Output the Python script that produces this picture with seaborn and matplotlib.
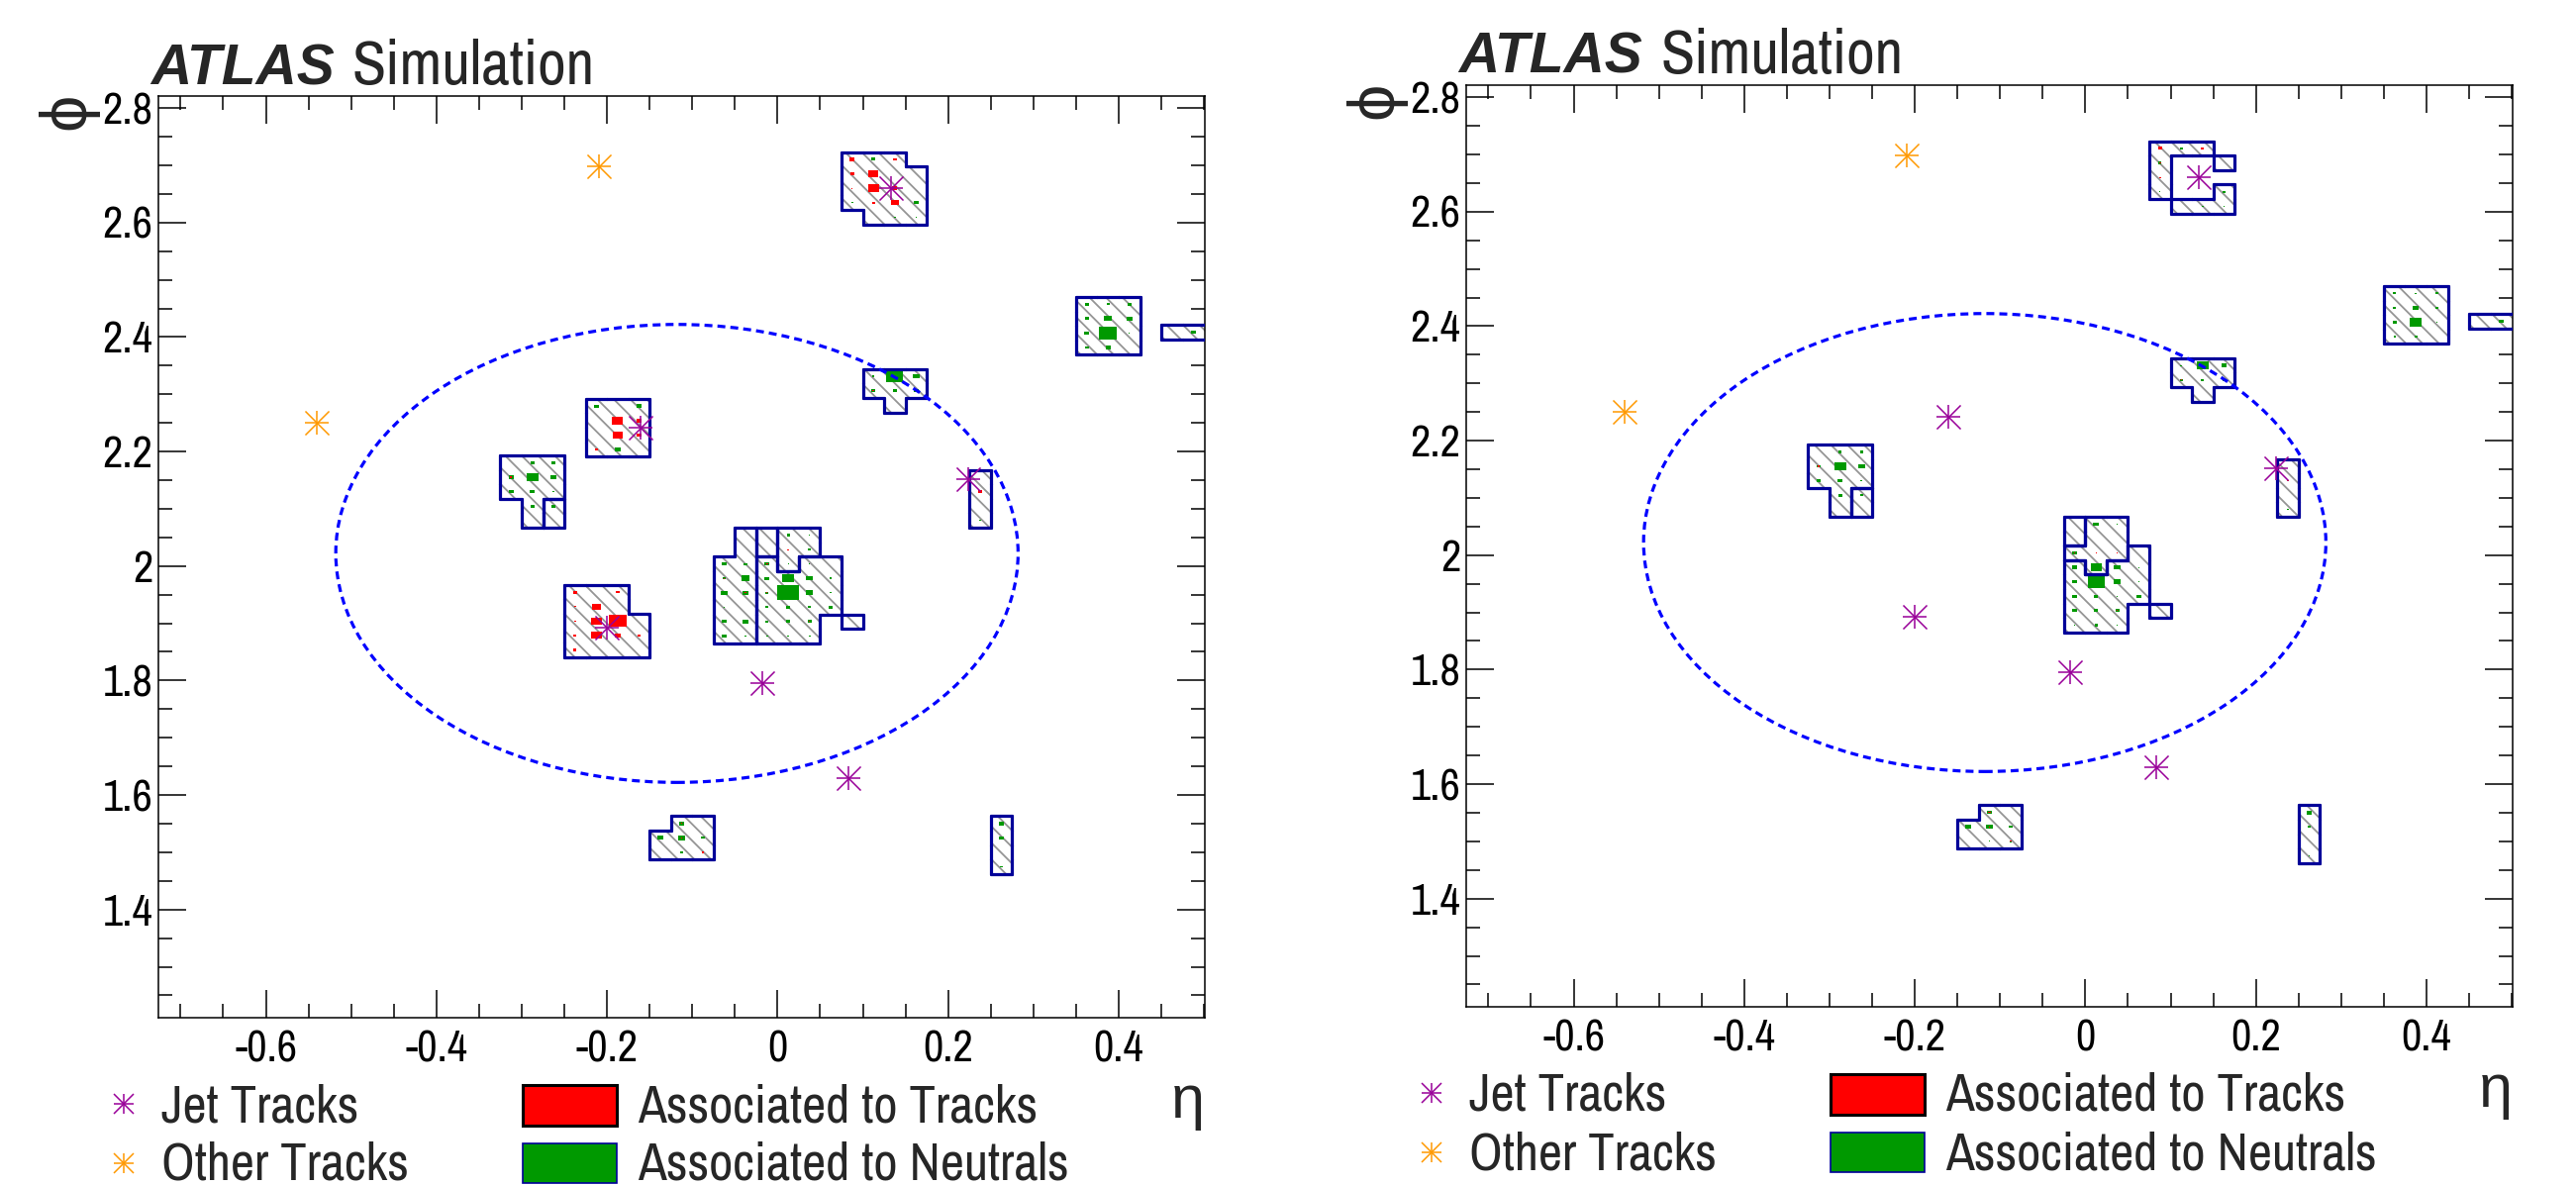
import numpy as np
import matplotlib
matplotlib.use("Agg")
import matplotlib.pyplot as plt
import seaborn as sns
from matplotlib.patches import Rectangle, Ellipse
from matplotlib.collections import LineCollection
from matplotlib.ticker import MultipleLocator, FuncFormatter

W, H, DPI = 2602, 1198, 100

# calorimeter cell size (eta x phi)
DETA = 0.025
DPHI = 0.0252

# jet axis and R=0.4 cone
JET_ETA = -0.118
JET_PHI = 2.022
JET_R = 0.4

# tracks, identical in both panels
jet_trk_eta = [-0.161, -0.200, -0.018, 0.224, 0.083, 0.133]
jet_trk_phi = [2.241, 1.892, 1.796, 2.151, 1.630, 2.660]
oth_trk_eta = [-0.210, -0.540]
oth_trk_phi = [2.699, 2.250]

# clusters: left eta edge, top phi edge, cell mask (rows top->bottom, one letter per cluster)
# boxes: (col, row, relative size, 't' = associated to tracks / 'n' = neutrals)
top_origin = (0.075, 2.723)
top_mask_L = ["AAA.", "AAAA", "AAAA", "AAAA", ".AAA"]
top_boxes_L = [(0, 0, .22, 't'), (1, 0, .2, 'n'), (2, 0, .18, 't'), (0, 1, .12, 'n'), (0, 1, .2, 't'),
               (1, 1, .48, 't'), (0, 2, .06, 't'), (1, 2, .5, 't'), (2, 2, .22, 't'), (0, 3, .08, 'n'),
               (1, 3, .14, 't'), (2, 3, .37, 't'), (3, 3, .25, 'n'), (2, 4, .1, 'n'), (3, 4, .06, 'n')]
top_mask_R = ["AAA.", "A..B", "A...", "A..A", ".AAA"]
top_boxes_R = [(0, 0, .2, 't'), (1, 0, .15, 'n'), (2, 0, .15, 't'), (0, 1, .15, 'n'), (0, 1, .08, 't'),
               (0, 2, .07, 't'), (0, 3, .06, 'n'), (3, 3, .15, 'n'), (2, 4, .08, 'n'), (3, 4, .05, 'n')]

mid_origin = (0.100, 2.344)
mid_mask = ["AAA", "AAA", ".A."]
mid_boxes_L = [(0, 0, .1, 'n'), (1, 0, .8, 'n'), (2, 0, .3, 'n'), (0, 1, .2, 'n'), (0, 1, .08, 't'),
               (1, 1, .2, 'n'), (2, 1, .2, 'n')]
mid_boxes_R = [(0, 0, .08, 'n'), (1, 0, .58, 'n'), (2, 0, .25, 'n'), (0, 1, .12, 'n'), (0, 1, .06, 't'),
               (1, 1, .15, 'n'), (2, 1, .15, 'n')]

east_origin = (0.350, 2.470)
east_mask = ["AAA", "AAA", "AAA", "AAA"]
east_boxes_L = [(0, 0, .2, 'n'), (1, 0, .15, 'n'), (2, 0, .2, 'n'), (0, 1, .2, 'n'), (1, 1, .35, 'n'),
                (2, 1, .3, 'n'), (0, 2, .25, 'n'), (1, 2, .85, 'n'), (2, 2, .06, 'n'), (0, 3, .2, 'n'),
                (1, 3, .25, 'n')]
east_boxes_R = [(0, 0, .15, 'n'), (1, 0, .1, 'n'), (2, 0, .12, 'n'), (0, 1, .15, 'n'), (1, 1, .3, 'n'),
                (2, 1, .12, 'n'), (0, 2, .2, 'n'), (1, 2, .58, 'n'), (2, 2, .06, 'n'), (0, 3, .1, 'n'),
                (1, 3, .15, 'n')]

rim_origin = (0.450, 2.421)
rim_mask = ["AAA"]
rim_boxes_L = [(1, 0, .25, 'n')]
rim_boxes_R = [(1, 0, .2, 'n')]

west_origin = (-0.325, 2.193)
west_mask = ["AAA", "AAA", "AAA", ".AB", ".AB"]
west_boxes_L = [(1, 0, .2, 'n'), (2, 0, .2, 'n'), (0, 1, .25, 'n'), (0, 1, .07, 't'), (1, 1, .55, 'n'),
                (2, 1, .26, 'n'), (0, 2, .25, 'n'), (1, 2, .23, 'n'), (2, 2, .1, 'n'), (1, 3, .2, 'n'),
                (2, 3, .2, 'n')]
west_boxes_R = [(1, 0, .15, 'n'), (2, 0, .15, 'n'), (0, 1, .2, 'n'), (0, 1, .07, 't'), (1, 1, .55, 'n'),
                (2, 1, .3, 'n'), (0, 2, .2, 'n'), (1, 2, .25, 'n'), (2, 2, .08, 'n'), (1, 3, .2, 'n'),
                (2, 3, .15, 'n')]

trk1_origin = (-0.225, 2.292)
trk1_mask = ["AAA", "AAA", "AAA", "AAA"]
trk1_boxes = [(0, 0, .2, 'n'), (2, 0, .25, 'n'), (1, 1, .52, 't'), (2, 1, .25, 't'), (1, 2, .5, 't'),
              (2, 2, .2, 't'), (0, 3, .15, 't'), (1, 3, .25, 'n')]

trk2_origin = (-0.250, 1.967)
trk2_mask = ["AAA.", "AAA.", "AAAA", "AAAA", "AAAA"]
trk2_boxes = [(0, 0, .2, 't'), (2, 0, .15, 't'), (0, 1, .1, 't'), (1, 1, .43, 't'), (0, 2, .08, 't'),
              (1, 2, .5, 't'), (2, 2, .85, 't'), (0, 3, .15, 't'), (1, 3, .48, 't'), (2, 3, .3, 't'),
              (3, 3, .1, 't'), (0, 4, .15, 't')]

core_origin = (-0.075, 2.0667)
core_mask_L = [".ABDD..", ".ABDD..", "AACDCC.", "AACCCC.", "AACCCC.", "AACCCC.", "AACCC.E", "AACCC.."]
core_boxes_L = [(1, 1, .06, 't'), (3, 0, .15, 'n'), (4, 0, .06, 'n'), (3, 1, .07, 't'), (4, 1, .12, 'n'),
                (0, 2, .25, 'n'), (1, 2, .15, 'n'), (2, 2, .25, 'n'), (2, 2, .08, 't'), (3, 2, .06, 'n'),
                (4, 2, .06, 'n'), (0, 3, .15, 'n'), (0, 3, .06, 't'), (1, 3, .4, 'n'), (2, 3, .2, 'n'),
                (3, 3, .55, 'n'), (4, 3, .3, 'n'), (5, 3, .1, 'n'), (0, 4, .3, 'n'), (1, 4, .3, 'n'),
                (1, 4, .08, 't'), (2, 4, .15, 'n'), (2, 4, .06, 't'), (3, 4, 1.0, 'n'), (4, 4, .35, 'n'),
                (5, 4, .1, 'n'), (0, 5, .06, 'n'), (2, 5, .12, 'n'), (3, 5, .2, 'n'), (4, 5, .12, 'n'),
                (5, 5, .2, 'n'), (0, 6, .2, 'n'), (1, 6, .25, 'n'), (2, 6, .15, 'n'), (3, 6, .2, 'n'),
                (4, 6, .2, 'n'), (4, 6, .07, 't'), (0, 7, .2, 'n'), (1, 7, .1, 'n'), (2, 7, .08, 'n'),
                (3, 7, .12, 'n'), (4, 7, .1, 'n')]
core_mask_R = ["..BDD..", "..BDD..", "..DDDC.", "..CDCC.", "..CCCC.", "..CCCC.", "..CCC.E", "..CCC.."]
core_boxes_R = [(3, 0, .25, 'n'), (4, 0, .06, 'n'), (3, 1, .06, 't'), (4, 1, .06, 'n'), (2, 2, .2, 'n'),
                (2, 2, .07, 't'), (3, 2, .06, 't'), (4, 2, .06, 't'), (2, 3, .25, 'n'), (3, 3, .52, 'n'),
                (4, 3, .3, 'n'), (5, 3, .06, 'n'), (2, 4, .2, 'n'), (3, 4, .8, 'n'), (4, 4, .35, 'n'),
                (5, 4, .06, 'n'), (2, 5, .2, 'n'), (3, 5, .2, 'n'), (4, 5, .06, 'n'), (5, 5, .25, 'n'),
                (2, 6, .2, 'n'), (3, 6, .2, 'n'), (4, 6, .2, 'n'), (4, 6, .07, 't'), (2, 7, .06, 'n'),
                (3, 7, .15, 'n'), (4, 7, .06, 'n')]

ring_origin = (0.225, 2.168)
ring_mask = ["A", "A", "A", "A"]
ring_boxes_L = [(0, 1, .15, 't'), (0, 3, .1, 'n')]
ring_boxes_R = [(0, 1, .12, 't'), (0, 3, .08, 'n')]

low1_origin = (-0.150, 1.563)
low1_mask = [".AA", "AAA", "AAA"]
low1_boxes_L = [(1, 0, .25, 'n'), (1, 0, .08, 't'), (0, 1, .3, 'n'), (1, 1, .35, 'n'), (1, 1, .08, 't'),
                (2, 1, .15, 'n'), (1, 2, .1, 'n'), (2, 2, .1, 't')]
low1_boxes_R = [(1, 0, .2, 'n'), (1, 0, .1, 't'), (0, 1, .3, 'n'), (1, 1, .3, 'n'), (1, 1, .06, 't'),
                (2, 1, .15, 'n'), (1, 2, .08, 'n'), (2, 2, .12, 'n'), (2, 2, .06, 't')]

low2_origin = (0.250, 1.563)
low2_mask = ["A", "A", "A", "A"]
low2_boxes_L = [(0, 0, .25, 'n'), (0, 1, .22, 'n'), (0, 3, .1, 'n')]
low2_boxes_R = [(0, 0, .25, 'n'), (0, 1, .15, 'n'), (0, 3, .08, 'n')]

left_clusters = [
    (top_origin, top_mask_L, top_boxes_L), (mid_origin, mid_mask, mid_boxes_L),
    (east_origin, east_mask, east_boxes_L), (rim_origin, rim_mask, rim_boxes_L),
    (west_origin, west_mask, west_boxes_L), (trk1_origin, trk1_mask, trk1_boxes),
    (trk2_origin, trk2_mask, trk2_boxes), (core_origin, core_mask_L, core_boxes_L),
    (ring_origin, ring_mask, ring_boxes_L), (low1_origin, low1_mask, low1_boxes_L),
    (low2_origin, low2_mask, low2_boxes_L),
]
right_clusters = [
    (top_origin, top_mask_R, top_boxes_R), (mid_origin, mid_mask, mid_boxes_R),
    (east_origin, east_mask, east_boxes_R), (rim_origin, rim_mask, rim_boxes_R),
    (west_origin, west_mask, west_boxes_R), (core_origin, core_mask_R, core_boxes_R),
    (ring_origin, ring_mask, ring_boxes_R), (low1_origin, low1_mask, low1_boxes_R),
    (low2_origin, low2_mask, low2_boxes_R),
]

# colours
PURPLE = "#990099"
ORANGE = "#ff9900"
RED = "#ff0000"
GREEN = "#009900"
NAVY = "#000099"
HATCH = "#959595"
CONE = "#0000ff"

sns.set_style("ticks", {"axes.edgecolor": "black", "xtick.color": "black", "ytick.color": "black"})
plt.rcParams["font.family"] = ["Archivo Narrow", "Liberation Sans", "DejaVu Sans"]
plt.rcParams["hatch.linewidth"] = 1.3
GREEK = ["Liberation Sans", "DejaVu Sans"]


def cluster_edges(eta0, phi_top, mask):
    def at(r, c):
        if 0 <= r < len(mask) and 0 <= c < len(mask[r]):
            return mask[r][c]
        return "."
    segs = []
    for r, row in enumerate(mask):
        for c, ch in enumerate(row):
            if ch == ".":
                continue
            x0 = eta0 + c * DETA
            x1 = x0 + DETA
            y1 = phi_top - r * DPHI
            y0 = y1 - DPHI
            if at(r - 1, c) != ch:
                segs.append([(x0, y1), (x1, y1)])
            if at(r + 1, c) != ch:
                segs.append([(x0, y0), (x1, y0)])
            if at(r, c - 1) != ch:
                segs.append([(x0, y0), (x0, y1)])
            if at(r, c + 1) != ch:
                segs.append([(x1, y0), (x1, y1)])
    return segs


def draw_cluster(ax, origin, mask, boxes):
    eta0, phi_top = origin
    for r, row in enumerate(mask):
        for c, ch in enumerate(row):
            if ch != ".":
                ax.add_patch(Rectangle((eta0 + c * DETA, phi_top - (r + 1) * DPHI), DETA, DPHI,
                                       facecolor="white", edgecolor=HATCH, linewidth=0,
                                       hatch="\\\\", zorder=1))
    for kind, col in (("n", GREEN), ("t", RED)):
        for c, r, f, k in boxes:
            if k != kind:
                continue
            w, h = f * DETA, f * DPHI
            xc = eta0 + (c + 0.5) * DETA
            yc = phi_top - (r + 0.5) * DPHI
            ax.add_patch(Rectangle((xc - w / 2, yc - h / 2), w, h, facecolor=col,
                                   edgecolor="none", zorder=2))
    ax.add_collection(LineCollection(cluster_edges(eta0, phi_top, mask), colors=NAVY,
                                     linewidths=2.3, capstyle="round", zorder=3))


fig = plt.figure(figsize=(W / DPI, H / DPI), dpi=DPI)

# overlay in pixel units for titles / legends
ov = fig.add_axes([0, 0, 1, 1])
ov.set_xlim(0, W)
ov.set_ylim(H, 0)
ov.axis("off")

panels = [(0, 0, left_clusters), (1321, -11, right_clusters)]
fmt = FuncFormatter(lambda v, p: f"{round(v, 3):g}")

for dx, dy, clusters in panels:
    x0, x1, y0, y1 = 160 + dx, 1217 + dx, 97 + dy, 1028 + dy
    ax = fig.add_axes([x0 / W, 1 - y1 / H, (x1 - x0) / W, (y1 - y0) / H])
    for origin, mask, boxes in clusters:
        draw_cluster(ax, origin, mask, boxes)
    ax.add_patch(Ellipse((JET_ETA, JET_PHI), 2 * JET_R, 2 * JET_R, fill=False, edgecolor=CONE,
                         linewidth=2.3, linestyle=(0, (2.5, 1.6)), zorder=4))
    for mk in ("+", "x"):
        sns.scatterplot(x=jet_trk_eta, y=jet_trk_phi, marker=mk, s=300, color=PURPLE,
                        linewidth=1.1, ax=ax, zorder=5, legend=False)
        sns.scatterplot(x=oth_trk_eta, y=oth_trk_phi, marker=mk, s=300, color=ORANGE,
                        linewidth=1.1, ax=ax, zorder=5, legend=False)
    ax.set_xlim(-0.726, 0.501)
    ax.set_ylim(1.211, 2.821)
    ax.set_xlabel("")
    ax.set_ylabel("")
    for axis in (ax.xaxis, ax.yaxis):
        axis.set_major_locator(MultipleLocator(0.2))
        axis.set_minor_locator(MultipleLocator(0.05))
        axis.set_major_formatter(fmt)
    ax.tick_params(which="both", direction="in", top=True, right=True, width=1.1,
                   labelsize=32, color="black")
    ax.tick_params(which="major", length=20)
    ax.tick_params(which="minor", length=10)
    ax.tick_params(axis="x", pad=9)
    ax.tick_params(axis="y", pad=4)
    for sp in ax.spines.values():
        sp.set_linewidth(1.1)
        sp.set_color("black")

    # title and axis labels
    ov.text(152 + dx, 85 + dy, "ATLAS", fontsize=41, weight="bold", style="italic", va="baseline",
            family=["Liberation Sans", "DejaVu Sans"])
    ov.text(356 + dx, 85 + dy, "Simulation", fontsize=45, va="baseline")
    ov.text(68 + dx, 112 + dy, "ϕ", fontsize=48, rotation=90, ha="center", va="center", family=GREEK)
    ov.text(1217 + dx, 1129 + dy, "η", fontsize=44, ha="right", va="baseline", family=GREEK)

    # legend
    for mk in ("+", "x"):
        ov.plot([125 + dx], [1115 + dy], marker=mk, ms=15, mew=1.1, color=PURPLE, ls="none")
        ov.plot([125 + dx], [1175 + dy], marker=mk, ms=15, mew=1.1, color=ORANGE, ls="none")
    ov.text(163 + dx, 1133 + dy, "Jet Tracks", fontsize=38, va="baseline")
    ov.text(163 + dx, 1192 + dy, "Other Tracks", fontsize=38, va="baseline")
    ov.add_patch(Rectangle((528 + dx, 1096 + dy), 95, 41, facecolor=RED, edgecolor="black", linewidth=2.2))
    ov.add_patch(Rectangle((528 + dx, 1155 + dy), 95, 40, facecolor=GREEN, edgecolor=NAVY, linewidth=1.2))
    ov.text(644 + dx, 1133 + dy, "Associated to Tracks", fontsize=38, va="baseline")
    ov.text(644 + dx, 1192 + dy, "Associated to Neutrals", fontsize=38, va="baseline")

fig.savefig("out.png", dpi=DPI)
